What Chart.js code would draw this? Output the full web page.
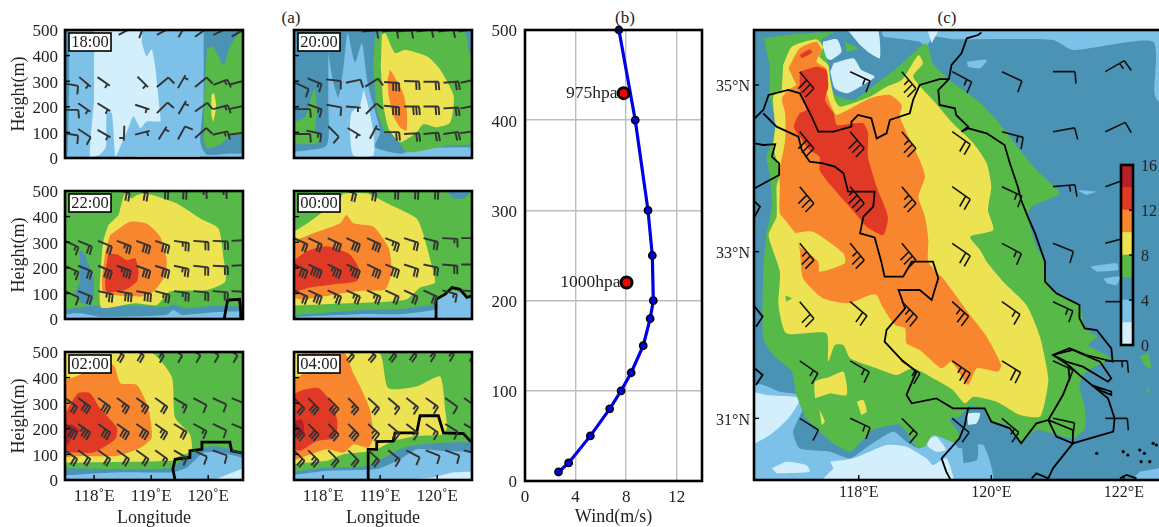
<!DOCTYPE html>
<html>
<head>
<meta charset="utf-8">
<script src="https://cdn.jsdelivr.net/npm/chart.js@4/dist/chart.umd.min.js"></script>
<style>
html,body{margin:0;padding:0;background:#fff;overflow:hidden;width:1159px;height:527px}
canvas{position:absolute;left:0;top:0;filter:blur(.4px)}
.ttl{position:absolute;font:17px "Liberation Serif",serif;color:#222;transform:translateX(-50%)}
</style>
</head>
<body>
<div class="ttl" style="left:291px;top:8px">(a)</div>
<div class="ttl" style="left:625px;top:8px">(b)</div>
<div class="ttl" style="left:947px;top:8px">(c)</div>
<canvas id="p18" width="1175" height="540"></canvas>
<canvas id="p20" width="1175" height="540"></canvas>
<canvas id="p22" width="1175" height="540"></canvas>
<canvas id="p00" width="1175" height="540"></canvas>
<canvas id="p02" width="1175" height="540"></canvas>
<canvas id="p04" width="1175" height="540"></canvas>
<canvas id="wind" width="1175" height="540"></canvas>
<canvas id="map" width="1175" height="540"></canvas>
<canvas id="bar" width="1175" height="540"></canvas>
<script>
// colour levels, 0-16 m/s in steps of 2
const levelColors = ['#d3effc','#7dc0e8','#4a93b5','#57b947','#ede352','#f7862f','#e03a26','#b5202a']
const [PALE,LIGHT,STEEL,GREEN,YELLOW,ORANGE,RED,DARK] = levelColors
const barTicks = [0,4,8,12,16]

// ---- panel (b) profile ----
const windHeight = [10,20,50,80,100,120,150,180,200,250,300,400,500]
const windSpeed = [2.65,3.45,5.17,6.7,7.6,8.4,9.35,9.9,10.15,10.07,9.73,8.72,7.43]
const pressureLabels = ['975hpa','1000hpa']
const pressureHeight = [430,220]
const pressureSpeed = [7.8,8.03]
const windXTicks = [0,4,8,12]
const heightTicks = [0,100,200,300,400,500]
const lonTicks = [118,119,120]

// ---- panel (a) sections, [lon, height] ----
const s18Steel = [[119.92,500],[120.7,500],[120.7,26],[120.33,17],[119.98,13],[119.89,39],[119.86,72],[119.92,228]]
const s18Left = [[117.4,500],[117.55,500],[117.53,0],[117.4,0]]
const s18Green = [[119.98,429],[120.09,435],[120.27,364],[120.38,435],[120.53,487],[120.57,500],[120.7,500],[120.7,104],[120.38,85],[120.21,52],[119.98,39],[119.93,58],[119.93,228],[119.96,358]]
const s18Yellow = [[120.06,247],[120.10,254],[120.14,202],[120.09,143],[120.06,163],[120.05,202]]
const s18Pale = [[118.0,500],[118.81,500],[118.84,449],[118.92,397],[119.01,425],[119.07,358],[119.16,163],[119.16,143],[118.92,143],[118.81,117],[118.69,163],[118.60,117],[118.40,13],[118.37,6],[118.31,176],[118.22,176],[118.21,46],[118.10,13],[117.93,6],[118.0,228]]
const s18PaleLow = [[118.37,6],[119.85,8],[119.85,0],[118.37,0]]
const barbs18 = [
  [117.46,292,10,1],[117.74,316,40,.5],[118.06,316,35,.5],[118.76,318,45,.5],[119.1,277,-40,1],[119.47,273,-60,.5],[119.77,277,-40,1],[120.09,286,-20,1.5],[120.36,286,-15,1],
  [117.46,188,0,1],[117.72,214,35,.5],[118.06,214,32,.5],[118.72,208,18,.5],[119.1,175,-45,1],[119.48,172,-60,.5],[119.77,182,-35,1],[120.09,191,-15,1.5],[120.36,191,-12,1],
  [117.46,98,10,1],[117.72,113,33,1],[118.06,110,30,.5],[118.53,126,92,.5],[118.72,91,-15,.5],[119.13,72,-58,.5],[119.47,72,-62,1],[119.77,78,-42,1],[120.08,91,-13,1.5],[120.36,91,-8,1],
  [118.43,481,-28,0],[118.79,468,-70,0],[119.1,481,-28,0],[119.48,472,-60,0],[119.77,474,-35,0],[120.09,481,-25,0],[120.41,474,-30,0]
]

const s20Light = [[118.09,410],[118.18,294],[118.27,236],[118.36,359],[118.43,488],[118.56,372],[118.68,449],[118.77,307],[118.85,230],[119.0,101],[118.91,43],[119.35,17],[119.64,36],[120.7,39],[120.7,0],[117.4,0],[117.4,21],[118.06,49],[118.09,230]]
const s20Green = [[118.91,475],[119.0,491],[120.47,491],[120.57,410],[120.7,359],[120.7,62],[120.17,49],[119.47,23],[119.23,101],[119.09,101],[118.94,191],[118.88,359]]
const s20GreenLeft = [[117.4,133],[117.68,159],[117.8,243],[117.86,268],[117.89,178],[117.86,101],[117.98,75],[117.86,55],[117.4,55]]
const s20Yellow = [[119.03,481],[119.09,488],[119.26,410],[119.44,423],[119.82,397],[120.05,346],[120.29,243],[120.23,139],[119.99,120],[119.76,133],[119.64,101],[119.35,62],[119.15,114],[119.06,204],[119.01,359]]
const s20Orange = [[119.17,346],[119.23,326],[119.41,249],[119.47,178],[119.46,107],[119.35,120],[119.23,165],[119.15,243],[119.13,307]]
const s20Pale = [[118.71,268],[118.79,204],[118.88,101],[118.88,10],[118.53,10],[118.47,114],[118.5,178],[118.65,204]]
const barbs20 = [
  [117.51,294,25,1],[117.73,311,22,1.5],[118.05,307,6,1],[118.4,294,-12,1],[118.74,279,-32,1],[119.07,297,4,3],[119.42,301,2,2],[119.76,298,0,2],[120.11,294,-5,2],[120.41,294,-12,1],
  [117.51,191,0,1],[117.73,210,20,1.5],[118.06,208,10,1],[118.4,201,4,.5],[118.75,172,-45,1],[119.07,204,5,3],[119.42,201,0,3],[119.76,201,0,2],[120.11,194,-3,2],[120.41,194,-10,1],
  [117.51,94,0,1],[117.71,107,12,1.5],[118.09,124,45,1],[118.43,117,31,.5],[118.82,75,-62,.5],[119.07,101,0,2],[119.42,94,-3,2],[119.76,94,-5,2],[120.11,94,-8,2],[120.4,97,-8,1],
  [118.68,494,-5,1],[119.03,494,-5,1],[119.29,494,-5,1],[119.64,494,-8,1],[120.02,494,-8,1],[120.37,494,-8,1]
]

const s22Steel = [[117.4,35],[117.99,52],[118.69,52],[119.27,48],[119.39,57],[119.63,42],[120.09,52],[120.7,42],[120.7,0],[117.4,0]]
const s22Light = [[117.4,16],[117.75,22],[118.1,9],[119.27,16],[119.39,35],[119.54,16],[120.09,26],[120.7,29],[120.7,0],[117.4,0]]
const s22Blob = [[117.75,269],[117.81,263],[117.99,159],[117.99,81],[117.9,55],[117.75,68],[117.67,100],[117.75,146]]
const s22Yellow = [[118.43,406],[118.54,490],[118.66,471],[118.75,484],[118.92,490],[119.45,451],[119.86,393],[120.18,354],[120.27,237],[120.3,146],[119.98,113],[119.33,107],[119.1,55],[118.69,61],[118.13,44],[118.1,120],[118.16,302],[118.25,367]]
const s22Orange = [[118.28,328],[118.63,380],[118.92,373],[119.16,321],[119.27,237],[119.25,172],[119.04,107],[118.81,87],[118.16,107],[118.19,250],[118.25,308]]
const s22Red = [[118.25,256],[118.43,250],[118.57,230],[118.72,237],[118.78,185],[118.75,146],[118.54,113],[118.22,107],[118.19,172]]
const t22Line = [[120.28,0],[120.34,74],[120.55,77],[120.57,29],[120.57,0]]
const rowLon22 = [117.49,117.72,118.07,118.40,118.74,119.07,119.40,119.74,120.08,120.41]
const n22a = [1.5,2,2,2.5,3,3,2.5,2,2,1], d22a = [25,22,22,20,20,18,8,4,2,-3]
const n22b = [1.5,2,3,3.5,3,3,2.5,2,2,1], d22b = [25,22,22,20,20,18,12,6,3,-3]
const n22c = [1,2,2.5,3,3,2.5,2.5,2,2,2], d22c = [25,22,12,10,10,15,8,6,5,3]
const topLon22 = [118.37,118.69,119.04,119.36,119.71,120.06], d22t = [15,15,8,8,5,5], n22t = [2,2,2,2,1.5,1.5]

const s00Steel = [[117.4,13],[118.65,35],[119.35,39],[119.99,58],[120.7,65],[120.7,0],[117.4,0]]
const s00Light = [[117.54,9],[118.65,19],[119.35,19],[119.99,39],[120.02,77],[120.26,110],[120.58,84],[120.7,77],[120.7,0],[117.54,0]]
const s00Blob = [[120.17,497],[120.58,497],[120.46,471],[120.29,471]]
const s00Yellow = [[117.4,329],[117.77,381],[118.3,471],[118.36,490],[118.77,490],[119.12,452],[119.64,393],[119.76,329],[119.93,187],[119.96,142],[119.7,123],[119.47,77],[118.94,65],[118.06,58],[117.4,52]]
const s00Orange = [[117.4,297],[117.83,335],[118.3,374],[118.41,406],[118.53,374],[118.88,361],[119.15,277],[119.2,187],[119.09,116],[118.65,110],[118.06,90],[117.6,77],[117.4,90]]
const s00Red = [[117.4,213],[117.71,264],[118.06,284],[118.47,252],[118.62,200],[118.59,148],[118.18,135],[117.77,123],[117.4,97]]
const t00Line = [[119.99,0],[119.98,77],[120.14,97],[120.26,123],[120.4,116],[120.52,84],[120.7,97]]
const rowLon00 = [117.49,117.74,118.08,118.41,118.77,119.09,119.42,119.76,120.09,120.42]
const n00a = [2,2,3,3,3,2.5,2,2,1.5,1], d00a = [25,25,25,25,25,22,18,15,3,0]
const n00b = [3,4,3.5,3.5,3,3,2,2,2,1], d00b = [25,25,25,25,25,22,18,12,5,0]
const n00c = [2,3,2.5,2.5,2.5,2,2,2,1.5,1], d00c = [25,25,25,25,25,25,25,25,15,5]
const topLon00 = [118.33,118.68,119.06,119.41,119.76], d00t = [18,15,8,8,8], n00t = [2,2,2,2,2]

const s02Steel = [[117.4,46],[119.33,46],[119.68,101],[120.09,133],[120.7,94],[120.7,0],[117.4,0]]
const s02Light = [[117.4,17],[118.46,30],[119.36,30],[119.63,49],[119.92,107],[120.21,107],[120.7,75],[120.7,0],[117.4,0]]
const s02Pale = [[120.21,10],[120.7,49],[120.7,0],[120.09,0]]
const s02Yellow = [[117.4,500],[118.98,500],[119.36,404],[119.42,243],[119.68,178],[119.71,114],[119.45,88],[119.36,75],[117.69,68],[117.4,68]]
const s02Orange = [[117.4,339],[117.52,391],[117.75,410],[118.02,449],[118.34,449],[118.46,378],[118.75,372],[118.95,281],[119.01,165],[118.81,126],[118.4,94],[117.81,94],[117.4,88]]
const s02Red = [[117.4,217],[117.58,294],[117.72,339],[117.93,339],[118.1,281],[118.4,204],[118.37,159],[117.99,107],[117.64,107],[117.4,107]]
const s02Dark = [[117.4,204],[117.61,217],[117.75,191],[117.61,178],[117.55,139],[117.4,139]]
const t02Line = [[119.42,0],[119.38,43],[119.42,81],[119.68,88],[119.68,114],[119.89,120],[119.89,148],[120.38,148],[120.41,114],[120.7,101]]
const rowLon02 = [117.49,117.72,118.07,118.40,118.74,119.07,119.40,119.74,120.08,120.41]
const n02a = [2,3,3,2.5,2.5,2,1.5,1,1,1], d02a = [35,35,35,35,35,35,30,28,25,22]
const n02b = [3,3.5,3,3,3,2.5,2,1.5,1,1], d02b = [35,35,35,35,35,35,32,28,25,22]
const n02c = [2,2,2,2,2,1.5,1.5,1,1,1], d02c = [35,35,35,35,35,35,30,25,20,15]
const topLon02 = [118.31,118.66,119.01,119.33,119.65,119.97,120.3], d02t = [35,35,35,35,35,35,35], n02t = [2,2,1.5,1,1,1,1]

const s04Steel = [[117.4,30],[118.06,49],[118.77,55],[119.41,126],[119.82,142],[120.7,139],[120.7,0],[117.4,0]]
const s04Light = [[117.4,17],[118.06,36],[118.94,43],[119.35,81],[119.64,120],[120.05,114],[120.7,101],[120.7,0],[117.4,0]]
const s04Pale = [[119.93,10],[120.31,30],[120.7,30],[120.7,0],[119.41,0]]
const s04Yellow = [[117.4,500],[118.97,500],[119.14,359],[119.64,365],[120.05,404],[120.14,275],[120.17,204],[120.08,178],[119.64,172],[119.23,152],[118.88,114],[118.36,101],[118.06,75],[117.4,62]]
const s04Orange = [[117.4,384],[117.65,417],[117.65,500],[118.36,500],[118.53,417],[118.65,365],[118.82,275],[118.88,165],[118.79,126],[118.53,139],[118.36,107],[118.06,120],[117.54,81],[117.4,81]]
const s04Red = [[117.4,326],[117.65,352],[117.92,359],[118.15,301],[118.25,230],[118.21,165],[117.89,152],[117.6,114],[117.4,126]]
const s04Dark = [[117.4,223],[117.62,236],[117.67,197],[117.57,165],[117.4,178]]
const t04Line = [[118.79,0],[118.79,120],[118.94,120],[118.94,150],[119.23,152],[119.26,184],[119.64,184],[119.7,251],[120.02,251],[120.11,184],[120.46,181],[120.58,152],[120.7,146]]
const rowLon04 = [117.49,117.74,118.09,118.44,118.79,119.14,119.46,119.8,120.14,120.47]
const n04a = [2,3,3,2.5,2,1.5,1.5,1.5,1,1], d04a = [45,45,45,45,42,40,38,35,35,35]
const n04b = [3,3,3,3,2.5,2,1.5,1.5,1,1], d04b = [45,45,45,45,42,40,38,35,32,30]
const n04c = [2,2.5,2,2,2,1.5,1,1,1,1], d04c = [45,45,45,45,42,38,28,22,20,15]
const topLon04 = [118.36,118.74,119.09,119.44,119.76,120.08,120.43], d04t = [45,45,42,40,38,35,35], n04t = [2,2,2,2,1.5,1.5,1]

// ---- panel (c) map, [lon, lat] ----
const mapLatTicks = [31,33,35]
const mapLonTicks = [118,120,122]
const mapLight = [[118.32,35.7],[122.64,35.7],[122.64,34.78],[122.52,34.80],[122.46,34.9],[122.44,35.52],[121.23,35.42],[120.93,35.54],[119.42,35.55],[119.12,35.58],[119.02,35.46],[118.92,35.52],[118.37,35.58]]
const mapLightLow = [[116.3,31.44],[116.56,31.40],[116.81,31.32],[117.11,31.28],[117.16,31.12],[117.01,30.84],[117.11,30.64],[117.57,30.60],[117.87,30.52],[118.17,30.68],[118.52,30.84],[118.72,30.72],[118.92,30.64],[119.12,30.80],[119.42,30.72],[119.52,30.64],[119.88,30.68],[120.0,30.2],[116.3,30.2]]
const mapSteelPatch = [[119.55,30.72],[119.68,30.84],[119.80,30.66],[119.78,30.50],[119.58,30.46]]
const mapLight2 = [[119.63,35.28],[119.93,35.30],[119.83,35.20],[119.65,35.22]]
const mapLight3 = [[121.29,33.74],[121.58,33.72],[121.43,33.68]]
const mapLight4 = [[121.49,32.82],[121.89,32.86],[121.91,32.78],[121.59,32.76]]
const mapLight5 = [[121.69,32.68],[121.94,32.70],[121.89,32.60],[121.74,32.62]]
const mapLight6 = [[122.24,30.36],[122.52,30.40],[122.64,30.46],[122.64,30.2],[122.04,30.2]]
const mapPaleA = [[117.79,35.7],[118.27,35.7],[118.32,35.32],[118.17,35.38],[118.02,35.48]]
const mapPaleB = [[117.46,35.52],[117.67,35.55],[117.74,35.40],[117.57,35.30],[117.46,35.36]]
const mapPaleC = [[117.62,35.26],[117.92,35.32],[118.04,35.18],[118.24,35.10],[118.02,34.98],[117.82,34.90],[117.64,34.96],[117.57,35.16]]
const mapPaleD = [[119.02,35.7],[119.22,35.7],[119.10,35.50]]
const mapPale1 = [[116.3,31.34],[116.61,31.28],[117.11,31.24],[116.94,31.0],[116.66,30.80],[116.3,30.64]]
const mapPale2 = [[117.57,30.48],[117.92,30.52],[118.42,30.68],[118.72,30.66],[119.02,30.52],[119.12,30.44],[119.32,30.52],[119.42,30.32],[119.42,30.2],[117.41,30.2],[117.62,30.40]]
const mapPale3 = [[116.69,30.40],[116.91,30.48],[117.21,30.44],[117.26,30.36],[116.76,30.34]]
const mapPale4 = [[119.63,31.06],[119.83,31.06],[119.78,30.94],[119.65,30.92]]
const mapPale5 = [[119.0,30.74],[119.17,30.78],[119.32,30.62],[119.17,30.60],[119.05,30.66]]
const mapGreen = [[116.57,35.56],[116.91,35.60],[117.62,35.63],[117.44,35.54],[117.54,35.26],[117.59,34.98],[117.64,34.88],[117.92,34.82],[118.27,35.02],[118.57,35.20],[118.82,35.38],[119.02,35.50],[119.12,35.26],[119.37,35.06],[119.78,34.82],[120.08,34.58],[120.43,34.22],[120.68,33.98],[121.03,33.70],[120.61,33.54],[120.55,33.42],[120.68,33.06],[120.81,32.88],[120.83,32.68],[120.93,32.52],[121.33,32.36],[121.41,32.08],[121.59,31.98],[121.46,31.88],[121.79,31.72],[121.43,31.56],[121.33,31.40],[121.41,31.12],[121.41,30.88],[121.23,30.76],[120.93,30.82],[120.68,30.86],[120.45,30.72],[120.23,30.92],[119.98,30.96],[119.88,31.12],[119.65,31.14],[119.52,31.02],[119.37,31.0],[119.52,30.80],[119.42,30.72],[119.12,30.80],[119.0,30.66],[118.87,30.66],[118.62,30.92],[118.27,30.88],[118.17,30.84],[117.87,30.60],[117.62,30.70],[117.21,31.0],[117.06,31.28],[116.99,31.56],[116.71,31.76],[116.56,31.96],[116.56,32.78],[116.61,33.22],[116.69,33.54],[116.66,33.90],[116.61,34.14],[116.71,34.34],[116.74,34.58],[116.66,34.86],[116.66,35.22]]
const mapGreen2 = [[122.24,31.74],[122.36,31.78],[122.41,31.60],[122.31,31.64]]
const mapGreen3 = [[122.34,31.38],[122.40,31.34],[122.36,31.30]]
const mapGreen4 = [[116.89,32.47],[116.99,32.44],[116.91,32.40]]
const mapGreen5 = [[117.79,35.52],[118.0,35.44],[117.82,35.40]]
const mapYellow = [[116.86,35.24],[116.99,35.46],[117.36,35.55],[117.46,35.46],[117.41,35.34],[117.54,35.24],[117.57,35.06],[117.64,34.82],[117.72,34.74],[118.17,34.86],[118.42,34.98],[118.65,35.06],[118.90,35.36],[118.97,35.26],[118.82,35.10],[119.12,34.82],[119.42,34.54],[119.73,34.30],[119.93,34.06],[120.0,33.78],[119.95,33.50],[120.03,33.26],[119.68,33.18],[119.83,33.02],[119.93,32.88],[120.18,32.64],[120.53,32.36],[120.73,31.99],[120.86,31.48],[120.81,31.20],[120.73,31.02],[120.43,31.04],[120.08,31.20],[119.73,31.26],[119.60,31.18],[119.42,31.34],[119.12,31.48],[118.82,31.60],[118.57,31.52],[118.27,31.60],[117.87,31.72],[117.77,31.88],[117.64,31.88],[117.54,31.68],[117.51,32.02],[116.91,32.02],[116.79,32.36],[116.81,32.76],[116.64,33.20],[116.76,33.42],[116.76,33.78],[116.81,33.94],[116.71,34.26],[116.74,34.50],[116.71,34.86],[116.84,34.94]]
const mapYellow1 = [[117.34,31.24],[117.34,31.44],[117.57,31.50],[117.77,31.56],[117.82,31.28],[117.57,31.30]]
const mapYellow2 = [[117.97,31.20],[118.07,31.22],[118.12,31.08],[118.04,31.04]]
const mapYellow3 = [[117.41,31.10],[117.49,30.96],[117.44,30.92]]
const mapOrange = [[116.94,35.20],[117.11,35.44],[117.36,35.52],[117.44,35.42],[117.36,35.28],[117.51,35.20],[117.54,35.02],[117.51,34.92],[117.59,34.74],[117.67,34.64],[118.17,34.84],[118.47,34.88],[118.65,34.76],[118.62,34.62],[118.92,34.10],[119.0,33.90],[118.90,33.66],[119.0,33.42],[119.05,33.14],[119.05,32.88],[119.27,32.68],[119.68,32.24],[119.93,31.98],[120.15,31.64],[120.10,31.56],[119.78,31.60],[119.65,31.40],[119.40,31.68],[119.25,31.60],[118.92,31.82],[118.72,31.90],[118.70,32.08],[118.55,32.12],[118.37,32.32],[118.27,32.48],[118.17,32.48],[117.84,32.38],[117.46,32.44],[117.16,32.68],[117.11,33.02],[117.04,33.22],[116.91,33.36],[116.81,33.46],[116.81,33.78],[116.80,33.94],[116.89,34.34],[116.89,34.66],[116.84,34.84],[116.94,34.94],[117.06,35.0]]
const mapFinger = [[117.01,33.22],[117.31,33.24],[117.77,32.98],[117.79,32.86],[117.41,32.76],[117.39,32.88],[117.11,33.06]]
const mapRed = [[117.11,35.16],[117.36,35.22],[117.51,35.18],[117.54,34.98],[117.49,34.82],[117.62,34.66],[117.67,34.52],[117.92,34.54],[118.07,34.54],[118.14,34.42],[118.14,34.14],[118.27,33.78],[118.44,33.42],[118.37,33.20],[118.12,33.30],[117.99,33.42],[117.77,33.62],[117.51,33.86],[117.41,33.98],[117.41,34.14],[117.26,34.22],[117.11,34.38],[117.02,34.50],[117.11,34.66],[117.21,34.70],[117.11,34.90]]
const mapRed2 = [[117.11,35.36],[117.26,35.43],[117.30,35.39],[117.14,35.32]]

const lineCoast = [[119.85,35.63],[119.80,35.60],[119.63,35.56],[119.55,35.38],[119.40,35.24],[119.36,35.07],[119.20,34.94],[119.22,34.76],[119.45,34.72],[119.47,34.64],[119.65,34.50],[119.55,34.44],[119.65,34.48],[119.93,34.42],[120.20,34.28],[120.28,34.06],[120.40,33.78],[120.45,33.62],[120.55,33.42],[120.66,33.22],[120.81,32.88],[120.81,32.64],[120.98,32.50],[121.33,32.36],[121.33,32.20],[121.41,32.08],[121.59,32.06],[121.81,31.84],[121.83,31.68],[121.43,31.76],[121.18,31.84],[120.93,31.76],[121.16,31.64]]
const lineSouth = [[121.16,31.64],[121.33,31.52],[121.76,31.24],[121.86,31.0],[121.84,30.84],[121.23,30.70],[120.93,30.40],[120.86,30.28]]
const lineIsle1 = [[120.93,31.76],[121.23,31.82],[121.64,31.68],[121.81,31.48],[121.76,31.44],[121.38,31.62],[121.13,31.68],[120.93,31.76]]
const lineIsle2 = [[121.51,31.40],[121.81,31.32],[121.81,31.28],[121.69,31.32],[121.51,31.40]]
const lineNorth = [[119.36,35.07],[119.22,35.07],[118.92,35.0],[118.82,34.82],[118.77,34.66],[118.47,34.58],[118.42,34.42],[118.27,34.36],[118.19,34.60],[117.99,34.64],[117.89,34.56],[117.89,34.50],[117.62,34.44],[117.39,34.44],[117.29,34.62],[117.11,34.90],[116.94,34.94],[116.64,34.88],[116.56,34.70],[116.43,34.60]]
const lineAnhui = [[116.56,34.66],[116.76,34.50],[117.09,34.38],[117.14,34.22],[117.26,34.08],[117.46,34.06],[117.64,34.02],[117.77,33.94],[117.84,33.72],[118.07,33.72],[118.24,33.72],[118.22,33.54],[118.07,33.42],[118.02,33.22],[118.24,33.17],[118.34,32.88],[118.39,32.70],[118.67,32.70],[118.80,32.88],[119.02,32.88],[119.12,32.88],[119.20,32.68],[119.10,32.42],[118.92,32.54],[118.60,32.54],[118.70,32.32],[118.42,32.06],[118.39,31.92],[118.65,31.70],[118.87,31.56],[118.72,31.28],[118.80,31.18],[119.17,31.24],[119.42,31.12],[119.65,31.12],[119.60,30.92],[119.52,30.76],[119.25,30.52],[119.32,30.36],[119.40,30.24]]
const lineZhejiang = [[119.65,31.12],[119.90,31.12],[120.0,30.96],[120.28,30.88],[120.45,30.70],[120.68,30.94],[120.86,30.98],[121.08,31.28],[121.18,31.48],[121.16,31.64]]
const lineShanghai = [[120.86,30.98],[121.23,30.86],[121.23,30.70],[120.98,30.78],[120.86,30.98]]
const lineHenan = [[116.43,34.30],[116.56,34.28],[116.74,34.29],[116.69,34.14],[116.80,34.06],[116.80,33.92],[116.43,33.76]]
const lineEdge1 = [[116.43,32.34],[116.55,32.22],[116.45,32.10]]
const lineEdge2 = [[116.43,31.60],[116.55,31.52],[116.45,31.40]]
const lineEdge3 = [[116.43,33.60],[116.51,33.54],[116.43,33.42]]
const lineEdge4 = [[120.61,30.28],[120.68,30.34],[120.86,30.28]]
const lineEdge5 = [[121.94,30.28],[122.04,30.32],[122.19,30.28]]
const islandDots = [[121.99,30.60],[122.06,30.56],[122.24,30.62],[122.31,30.58],[122.26,30.48],[122.39,30.48],[122.44,30.70],[122.49,30.68],[121.59,30.58]]

const mapBarbLon = [117.11,117.87,118.65,119.41,120.16,120.93,121.72]
const mapBarbLat = [35.16,34.44,33.78,33.10,32.40,31.69,31.0]
const mapBarbDir = [[50,25,50,28,25,0,-30],[50,50,50,35,15,-10,-25],[50,50,50,35,25,-5,-20],[50,50,50,35,28,22,-15],[50,40,45,42,35,25,0],[35,30,35,35,32,25,0],[32,25,45,40,40,12,0]]
const mapBarbN = [[3,1.5,2.5,1.5,1,1,1.5],[3,3,2.5,2,1.5,1,1],[3,3.5,2.5,2,1.5,1.5,1],[2.5,2.5,3,2,1.5,1,1],[2,2,2.5,2.5,1.5,1.5,0],[1.5,1.5,1.5,2.5,2,1,1.5],[1,1.5,1.5,1,1.5,1,1]]

const FONT = '"Liberation Serif", serif'
const TEXT = '#222'
const CW = 1175, CH = 540

function poly(pts, color, i){
  return {data: pts.map(p => ({x:p[0], y:p[1]})), showLine:true, fill:'shape', backgroundColor:color,
    borderWidth:0, borderColor:'transparent', pointRadius:0, tension:0.2, order:1000-i}
}
function blackLine(pts, width){
  return {data: pts.map(p => ({x:p[0], y:p[1]})), showLine:true, fill:false, borderColor:'#000',
    borderWidth:width, pointRadius:0, tension:0, order:1}
}
function rowBarbs(lons, h, dirs, ns){
  return lons.map((lon,i) => [lon, h, dirs[i], ns[i]])
}

function drawBarb(ctx, x, y, dir, n, L, F, S){
  const a = dir*Math.PI/180
  const ex = x+L*Math.cos(a), ey = y+L*Math.sin(a)
  const fa = a+85*Math.PI/180
  ctx.beginPath()
  ctx.moveTo(x,y); ctx.lineTo(ex,ey)
  let d = 0, left = n
  if (n === 0.5) d = S
  while (left > 0){
    const len = left >= 1 ? F : F*0.55
    const bx = ex-d*Math.cos(a), by = ey-d*Math.sin(a)
    ctx.moveTo(bx,by); ctx.lineTo(bx+len*Math.cos(fa), by+len*Math.sin(fa))
    left -= left >= 1 ? 1 : left
    d += S
  }
  ctx.stroke()
}

function overlayPlugin(o){
  return {
    id:'overlay',
    beforeDatasetsDraw(chart){
      const {ctx, chartArea:c} = chart
      if (o.bg){ ctx.fillStyle = o.bg; ctx.fillRect(c.left,c.top,c.width,c.height) }
      if (o.beforeDraw) o.beforeDraw(chart)
    },
    afterDatasetsDraw(chart){
      const {ctx, chartArea:c, scales} = chart
      if (o.barbs){
        ctx.save()
        ctx.beginPath(); ctx.rect(c.left,c.top,c.width,c.height); ctx.clip()
        ctx.strokeStyle = o.barbColor || '#333'; ctx.lineWidth = o.barbWidth || 1.9
        o.barbs.forEach(b => drawBarb(ctx, scales.x.getPixelForValue(b[0]), scales.y.getPixelForValue(b[1]), b[2], b[3], o.L||15, o.F||8.5, o.S||3))
        ctx.restore()
      }
    },
    afterDraw(chart){
      const {ctx, chartArea:c, scales} = chart
      ctx.save()
      ctx.strokeStyle = '#000'; ctx.lineWidth = 1.4
      if (o.xTicks) scales.x.ticks.forEach(t => { const px = scales.x.getPixelForValue(t.value); ctx.beginPath(); ctx.moveTo(px,c.bottom); ctx.lineTo(px,c.bottom-5); ctx.stroke() })
      if (o.yTicks) scales.y.ticks.forEach(t => { const py = scales.y.getPixelForValue(t.value); ctx.beginPath(); ctx.moveTo(c.left,py); ctx.lineTo(c.left+5,py); ctx.stroke() })
      if (o.rTicks) scales.y.ticks.forEach(t => { const py = scales.y.getPixelForValue(t.value); ctx.beginPath(); ctx.moveTo(c.right,py); ctx.lineTo(c.right-4,py); ctx.stroke() })
      ctx.strokeStyle = '#000'; ctx.lineWidth = 2.6
      ctx.strokeRect(c.left,c.top,c.width,c.height)
      if (o.label){
        ctx.fillStyle = '#fff'; ctx.lineWidth = 1.6
        ctx.fillRect(c.left+4,c.top+3,42,18); ctx.strokeRect(c.left+4,c.top+3,42,18)
        ctx.fillStyle = TEXT; ctx.font = '16.5px '+FONT; ctx.textAlign = 'center'; ctx.textBaseline = 'middle'
        ctx.fillText(o.label, c.left+25, c.top+12.5)
      }
      ctx.restore()
    }
  }
}

function sectionChart(id, l, t, label, bg, layers, lines, barbs, showY, showX){
  const r = l+178, b = t+128
  const yw = showY ? 57 : 0
  const xh = showX ? 49 : 0
  new Chart(document.getElementById(id), {
    type:'scatter',
    data:{datasets: layers.map((a,i) => poly(a[0],a[1],i)).concat(lines.map(p => blackLine(p,2.8)))},
    plugins:[overlayPlugin({bg, barbs, label, xTicks:showX, yTicks:true})],
    options:{
      responsive:false, animation:false, events:[],
      layout:{padding:{left:l-yw, right:CW-r, top:t, bottom:CH-b-xh}},
      plugins:{legend:{display:false}, tooltip:{enabled:false}},
      scales:{
        x:{type:'linear', min:117.49, max:120.61, display:showX,
          afterBuildTicks:s => { s.ticks = lonTicks.map(v => ({value:v})) },
          afterFit:s => { s.height = xh },
          grid:{display:false, drawTicks:false}, border:{display:false},
          ticks:{padding:6, color:TEXT, font:{family:FONT,size:17}, maxRotation:0, autoSkip:false, callback:v => v+'˚E'},
          title:{display:true, text:'Longitude', color:TEXT, font:{family:FONT,size:18}, padding:0}},
        y:{type:'linear', min:0, max:500,
          afterBuildTicks:s => { s.ticks = heightTicks.map(v => ({value:v})) },
          afterFit:s => { s.width = yw },
          grid:{display:false, drawTicks:false}, border:{display:false},
          ticks:{display:showY, padding:7, labelOffset:2, color:TEXT, font:{family:FONT,size:17}, autoSkip:false},
          title:{display:showY, text:'Height(m)', color:TEXT, font:{family:FONT,size:18}, padding:0}}
      }
    }
  })
}

sectionChart('p18',65,30,'18:00',LIGHT,[[s18Left,STEEL],[s18Steel,STEEL],[s18Green,GREEN],[s18Yellow,YELLOW],[s18Pale,PALE],[s18PaleLow,PALE]],[],barbs18,true,false)
sectionChart('p20',294,30,'20:00',STEEL,[[s20Light,LIGHT],[s20Green,GREEN],[s20GreenLeft,GREEN],[s20Yellow,YELLOW],[s20Orange,ORANGE],[s20Pale,PALE]],[],barbs20,false,false)
sectionChart('p22',65,191,'22:00',GREEN,[[s22Steel,STEEL],[s22Light,LIGHT],[s22Blob,STEEL],[s22Yellow,YELLOW],[s22Orange,ORANGE],[s22Red,RED]],[t22Line],
  rowBarbs(rowLon22,305,d22a,n22a).concat(rowBarbs(rowLon22,208,d22b,n22b),rowBarbs(rowLon22,109,d22c,n22c),rowBarbs(topLon22,507,d22t,n22t)),true,false)
sectionChart('p00',294,191,'00:00',GREEN,[[s00Steel,STEEL],[s00Light,LIGHT],[s00Blob,STEEL],[s00Yellow,YELLOW],[s00Orange,ORANGE],[s00Red,RED]],[t00Line],
  rowBarbs(rowLon00,316,d00a,n00a).concat(rowBarbs(rowLon00,213,d00b,n00b),rowBarbs(rowLon00,112,d00c,n00c),rowBarbs(topLon00,507,d00t,n00t)),false,false)
sectionChart('p02',65,352,'02:00',GREEN,[[s02Steel,STEEL],[s02Light,LIGHT],[s02Pale,PALE],[s02Yellow,YELLOW],[s02Orange,ORANGE],[s02Red,RED],[s02Dark,DARK]],[t02Line],
  rowBarbs(rowLon02,320,d02a,n02a).concat(rowBarbs(rowLon02,219,d02b,n02b),rowBarbs(rowLon02,116,d02c,n02c),rowBarbs(topLon02,520,d02t,n02t)),true,true)
sectionChart('p04',294,352,'04:00',GREEN,[[s04Steel,STEEL],[s04Light,LIGHT],[s04Pale,PALE],[s04Yellow,YELLOW],[s04Orange,ORANGE],[s04Red,RED],[s04Dark,DARK]],[t04Line],
  rowBarbs(rowLon04,320,d04a,n04a).concat(rowBarbs(rowLon04,219,d04b,n04b),rowBarbs(rowLon04,116,d04c,n04c),rowBarbs(topLon04,525,d04t,n04t)),false,true)

// panel (b)
new Chart(document.getElementById('wind'), {
  type:'scatter',
  data:{datasets:[
    {data:pressureSpeed.map((v,i) => ({x:v, y:pressureHeight[i]})), showLine:false, pointRadius:5.5, pointBorderWidth:3, pointBackgroundColor:'#f00', pointBorderColor:'#000', order:1},
    {data:windSpeed.map((v,i) => ({x:v, y:windHeight[i]})), showLine:true, fill:false, borderColor:'#0000e6', borderWidth:3.2, tension:0, clip:false,
      pointRadius:3.6, pointBorderWidth:1.6, pointBackgroundColor:'#0000e6', pointBorderColor:'#000', order:2}
  ]},
  plugins:[overlayPlugin({beforeDraw(chart){
    const {ctx, scales} = chart
    ctx.save()
    ctx.fillStyle = TEXT; ctx.font = '17.5px '+FONT; ctx.textAlign = 'right'; ctx.textBaseline = 'middle'
    pressureLabels.forEach((t,i) => ctx.fillText(t, scales.x.getPixelForValue(pressureSpeed[i])-6, scales.y.getPixelForValue(pressureHeight[i])))
    ctx.restore()
  }})],
  options:{
    responsive:false, animation:false, events:[],
    layout:{padding:{left:525-40, right:CW-702, top:30, bottom:CH-481-47}},
    plugins:{legend:{display:false}, tooltip:{enabled:false}},
    scales:{
      x:{type:'linear', min:0, max:14,
        afterBuildTicks:s => { s.ticks = windXTicks.map(v => ({value:v})) },
        afterFit:s => { s.height = 47 },
        grid:{color:'#bdbdbd', lineWidth:1.4, drawTicks:false}, border:{display:false},
        ticks:{padding:6, color:TEXT, font:{family:FONT,size:17}, maxRotation:0, autoSkip:false},
        title:{display:true, text:'Wind(m/s)', color:TEXT, font:{family:FONT,size:18}, padding:0}},
      y:{type:'linear', min:0, max:500,
        afterBuildTicks:s => { s.ticks = heightTicks.map(v => ({value:v})) },
        afterFit:s => { s.width = 40 },
        grid:{color:'#bdbdbd', lineWidth:1.4, drawTicks:false}, border:{display:false},
        ticks:{padding:8, labelOffset:2, color:TEXT, font:{family:FONT,size:17}, autoSkip:false}}
    }
  }
})

// panel (c)
const mapLayers = [
  [mapLight,LIGHT],[mapLight2,LIGHT],[mapLight3,LIGHT],[mapLight4,LIGHT],[mapLight5,LIGHT],[mapLight6,LIGHT],[mapLightLow,LIGHT],[mapSteelPatch,STEEL],
  [mapPaleA,PALE],[mapPaleB,PALE],[mapPaleC,PALE],[mapPaleD,PALE],[mapPale1,PALE],[mapPale2,PALE],[mapPale3,PALE],[mapPale4,PALE],[mapPale5,PALE],
  [mapGreen,GREEN],[mapGreen2,GREEN],[mapGreen3,GREEN],[mapGreen5,GREEN],
  [mapYellow,YELLOW],[mapYellow1,YELLOW],[mapYellow2,YELLOW],[mapYellow3,YELLOW],[mapGreen4,GREEN],
  [mapOrange,ORANGE],[mapFinger,YELLOW],[mapRed,RED],[mapRed2,RED]
]
const mapLines = [lineCoast,lineSouth,lineIsle1,lineIsle2,lineNorth,lineAnhui,lineZhejiang,lineShanghai,lineHenan,lineEdge1,lineEdge2,lineEdge3,lineEdge4,lineEdge5]
const mapBarbs = []
mapBarbLat.forEach((lat,r) => mapBarbLon.forEach((lon,c) => mapBarbs.push([lon,lat,mapBarbDir[r][c],mapBarbN[r][c]])))
new Chart(document.getElementById('map'), {
  type:'scatter',
  data:{datasets: mapLayers.map((a,i) => poly(a[0],a[1],i))
    .concat(mapLines.map(p => blackLine(p,1.8)))
    .concat([{data:islandDots.map(p => ({x:p[0], y:p[1]})), showLine:false, pointRadius:1.6, pointBackgroundColor:'#000', pointBorderWidth:0, order:0}])},
  plugins:[overlayPlugin({bg:STEEL, barbs:mapBarbs, barbColor:'#111', barbWidth:1.6, L:22, F:12, S:5.5, xTicks:true, yTicks:true})],
  options:{
    responsive:false, animation:false, events:[],
    layout:{padding:{left:754-40, right:CW-1163, top:30, bottom:CH-480-22}},
    plugins:{legend:{display:false}, tooltip:{enabled:false}},
    scales:{
      x:{type:'linear', min:116.42, max:122.59,
        afterBuildTicks:s => { s.ticks = mapLonTicks.map(v => ({value:v})) },
        afterFit:s => { s.height = 22 },
        grid:{display:false, drawTicks:false}, border:{display:false},
        ticks:{padding:3, color:TEXT, font:{family:FONT,size:16}, maxRotation:0, autoSkip:false, callback:v => v+'°E'}},
      y:{type:'linear', min:30.26, max:35.66,
        afterBuildTicks:s => { s.ticks = mapLatTicks.map(v => ({value:v})) },
        afterFit:s => { s.width = 40 },
        grid:{display:false, drawTicks:false}, border:{display:false},
        ticks:{padding:4, labelOffset:2, color:TEXT, font:{family:FONT,size:16}, autoSkip:false, callback:v => v+'°N'}}
    }
  }
})

// colour bar
new Chart(document.getElementById('bar'), {
  type:'bar',
  data:{labels:[''], datasets: levelColors.map(c => ({data:[2], backgroundColor:c, borderWidth:0, categoryPercentage:1, barPercentage:1}))},
  plugins:[overlayPlugin({rTicks:true})],
  options:{
    responsive:false, animation:false, events:[],
    layout:{padding:{left:1121, right:CW-1159, top:165, bottom:CH-345}},
    plugins:{legend:{display:false}, tooltip:{enabled:false}},
    scales:{
      x:{stacked:true, display:false},
      y:{stacked:true, position:'right', min:0, max:16,
        afterBuildTicks:s => { s.ticks = barTicks.map(v => ({value:v})) },
        afterFit:s => { s.width = 26 },
        grid:{display:false, drawTicks:false}, border:{display:false},
        ticks:{padding:8, labelOffset:2, color:TEXT, font:{family:FONT,size:16}, autoSkip:false}}
    }
  }
})
</script>
</body>
</html>
